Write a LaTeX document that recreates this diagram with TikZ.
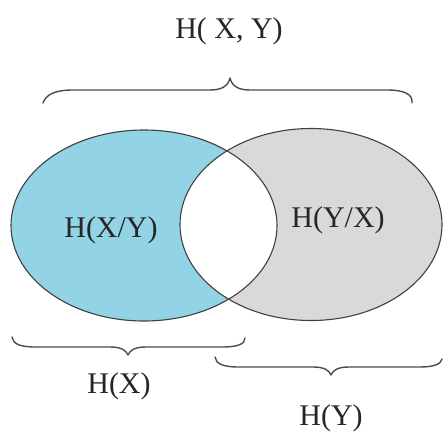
\documentclass[tikz,border=0pt]{standalone}
\usepackage{fontspec}
\setmainfont{Liberation Serif}
\begin{document}
\begin{tikzpicture}[x=1pt,y=-1pt,
  label/.style={anchor=base,inner sep=0pt,text=black!85,
    font=\fontsize{30}{36}\selectfont},
  outline/.style={draw=black!75,line width=1.1pt},
  brace/.style={draw=black!70,line width=1.4pt,line cap=round,line join=round}]
\useasboundingbox (0,0) rectangle (443,432);
\fill[white] (0,0) rectangle (443,432);

% centres of the two entropy sets
\coordinate (cx) at (144,225.5);
\coordinate (cy) at (311,224.5);

% coloured regions: H(X) blue, H(Y) grey, shared part white
\fill[fill={rgb,255:red,147;green,211;blue,230}] (cx) ellipse [x radius=133, y radius=95.5];
\fill[fill={rgb,255:red,217;green,217;blue,217}] (cy) ellipse [x radius=131, y radius=96];
\begin{scope}
  \clip (cx) ellipse [x radius=133, y radius=95.5];
  \fill[white] (cy) ellipse [x radius=131, y radius=96];
\end{scope}
\path[outline] (cx) ellipse [x radius=133, y radius=95.5];
\path[outline] (cy) ellipse [x radius=131, y radius=96];

% labels
\node[label] (hxy)  at (229,38)  {H( X, Y)};
\node[label] (hxgy) at (111,237) {H(X/Y)};
\node[label] (hygx) at (338,227) {H(Y/X)};
\node[label] (hx)   at (119,393) {H(X)};
\node[label] (hy)   at (331,425) {H(Y)};

% brace over both sets
\path[brace] (43,103) .. controls (46,94) and (56,90) .. (73,90)
  -- (210,90) .. controls (222,90) and (228,86) .. (230,78)
  .. controls (232,86) and (238,90) .. (250,90)
  -- (387,90) .. controls (404,90) and (413,94) .. (412,103);

% brace under H(X)
\path[brace] (12,337) .. controls (13,344) and (20,347) .. (36,347)
  -- (110,347) .. controls (121,347) and (126,350) .. (128,355)
  .. controls (130,350) and (135,347) .. (146,347)
  -- (222,347) .. controls (238,347) and (245,344) .. (245,338);

% brace under H(Y)
\path[brace] (215,357) .. controls (216,364) and (223,367) .. (239,367)
  -- (313,367) .. controls (324,367) and (329,370) .. (331,375)
  .. controls (333,370) and (338,367) .. (349,367)
  -- (420,367) .. controls (434,367) and (441,364) .. (442,359);
\end{tikzpicture}
\end{document}
